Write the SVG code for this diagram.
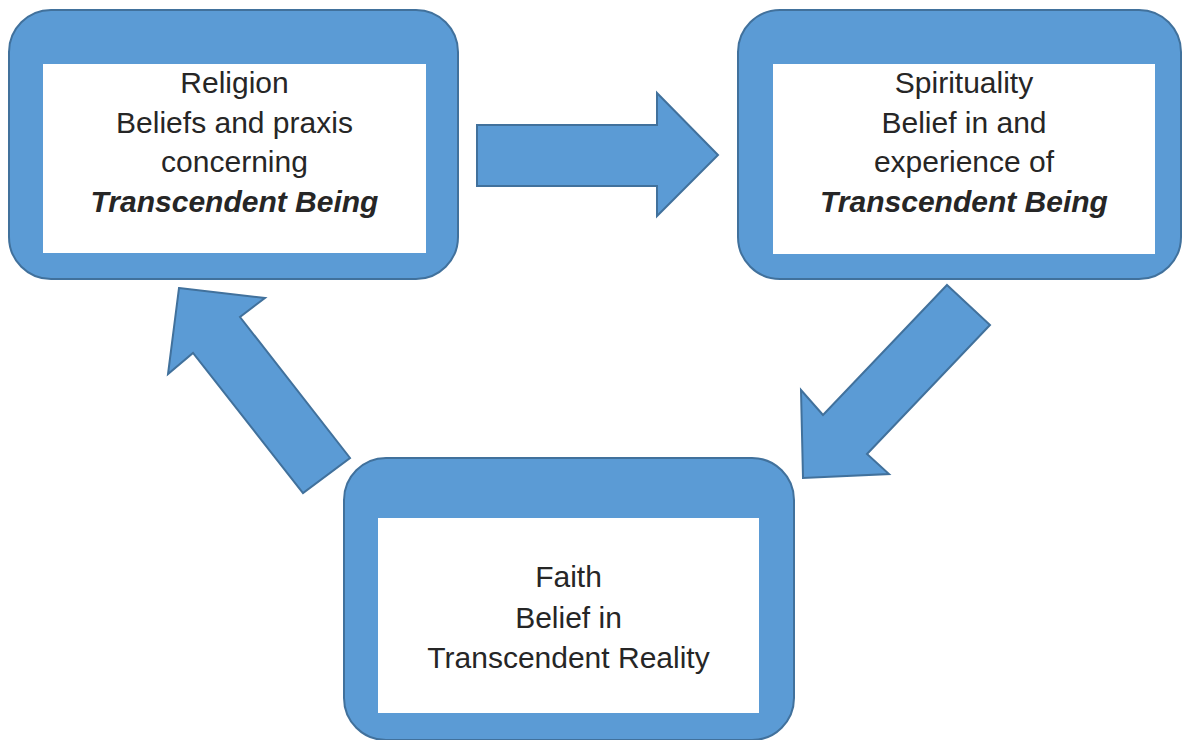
<svg xmlns="http://www.w3.org/2000/svg" width="1182" height="740" viewBox="0 0 1182 740">
  <style>
    .outer { fill: #5B9BD5; stroke: #41719C; stroke-width: 2; }
    .inner { fill: #FFFFFF; }
    .arrow { fill: #5B9BD5; stroke: #41719C; stroke-width: 2; stroke-linejoin: miter; }
    text { font-family: "Liberation Sans", Arial, sans-serif; font-size: 30px; fill: #262626; text-anchor: middle; }
    .bi { font-weight: bold; font-style: italic; }
  </style>
  <rect width="1182" height="740" fill="#FFFFFF"/>
  <g id="connectors">
    <polygon class="arrow" points="477,125 657,125 657,93 718,155 657,216 657,186 477,186"/>
    <polygon class="arrow" points="947,285 990,325 867,454 889,474 803,478 801,390 823,415"/>
    <polygon class="arrow" points="179,288 265,298 240,317 350,458 303,493 193,353 168,374"/>
  </g>
  <g id="religion">
    <rect class="outer" x="9" y="10" width="449" height="269" rx="42" ry="42"/>
    <rect class="inner" x="43" y="64" width="383" height="189"/>
    <text x="234.5" y="93">Religion</text>
    <text x="234.5" y="133">Beliefs and praxis</text>
    <text x="234.5" y="172">concerning</text>
    <text x="234.5" y="212" class="bi">Transcendent Being</text>
  </g>
  <g id="spirituality">
    <rect class="outer" x="738" y="10" width="443" height="269" rx="42" ry="42"/>
    <rect class="inner" x="773" y="64" width="382" height="190"/>
    <text x="964" y="93">Spirituality</text>
    <text x="964" y="133">Belief in and</text>
    <text x="964" y="172">experience of</text>
    <text x="964" y="212" class="bi">Transcendent Being</text>
  </g>
  <g id="faith">
    <rect class="outer" x="344" y="458" width="450" height="282" rx="42" ry="42"/>
    <rect class="inner" x="378" y="518" width="381" height="195"/>
    <text x="568.5" y="587">Faith</text>
    <text x="568.5" y="628">Belief in</text>
    <text x="568.5" y="668">Transcendent Reality</text>
  </g>
</svg>
